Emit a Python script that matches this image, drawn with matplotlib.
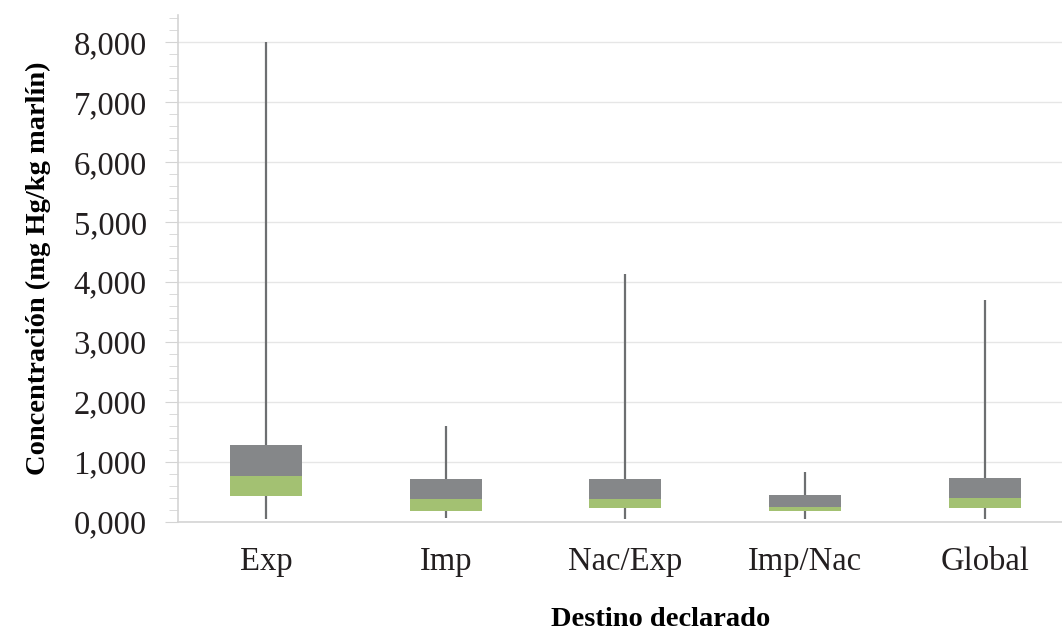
import matplotlib
matplotlib.use("Agg")
import matplotlib.pyplot as plt
from matplotlib.ticker import MultipleLocator

# ---------- datos ----------
destinos = ["Exp", "Imp", "Nac/Exp", "Imp/Nac", "Global"]
minimo = [40, 70, 42, 42, 42]
q1 = [422, 176, 231, 176, 231]
mediana = [767, 372, 372, 248, 393]
q3 = [1280, 706, 706, 449, 733]
maximo = [8000, 1590, 4130, 823, 3707]

y_ticks = [0, 1000, 2000, 3000, 4000, 5000, 6000, 7000, 8000]
y_labels = ["0,000", "1,000", "2,000", "3,000", "4,000", "5,000", "6,000", "7,000", "8,000"]

gris = "#858789"
verde = "#a3c172"
linea = "#6d6f71"

plt.rcParams["font.family"] = ["Liberation Serif", "DejaVu Serif"]

fig = plt.figure(figsize=(10.62, 6.37), dpi=100)
ax = fig.add_axes([0.1676, 0.181, 0.8324, 0.795])

x = list(range(len(destinos)))

# bigotes
ax.vlines(x, minimo, maximo, color=linea, lw=1.6, zorder=2)

# cajas: parte baja verde, parte alta gris
ax.bar(x, [m - a for m, a in zip(mediana, q1)], bottom=q1, width=0.4,
       color=verde, zorder=3)
ax.bar(x, [b - m for b, m in zip(q3, mediana)], bottom=mediana, width=0.4,
       color=gris, zorder=3)

ax.set_xlim(-0.49, 4.43)
ax.set_ylim(0, 8450)
ax.set_xticks(x)
ax.set_xticklabels(destinos, fontsize=23.5, color="#231f20")
ax.set_yticks(y_ticks)
ax.set_yticklabels(y_labels, fontsize=23.5, color="#231f20")
ax.yaxis.set_minor_locator(MultipleLocator(200))

ax.grid(axis="y", color="#e6e6e6", lw=1, zorder=0)
ax.set_axisbelow(True)

for s in ["top", "right"]:
    ax.spines[s].set_visible(False)
for s in ["left", "bottom"]:
    ax.spines[s].set_color("#d4d4d4")
    ax.spines[s].set_linewidth(1.2)

ax.tick_params(axis="x", length=0, pad=18)
ax.tick_params(axis="y", which="major", length=9.5, color="#d4d4d4", pad=13)
ax.tick_params(axis="y", which="minor", length=6.5, color="#d4d4d4")

ax.set_xlabel("Destino declarado", fontsize=20.5, fontweight="bold")
ax.xaxis.set_label_coords(0.546, -0.168)
ax.set_ylabel("Concentración (mg Hg/kg marlín)", fontsize=20.5, fontweight="bold", labelpad=16)

fig.savefig("out.png", dpi=100)
